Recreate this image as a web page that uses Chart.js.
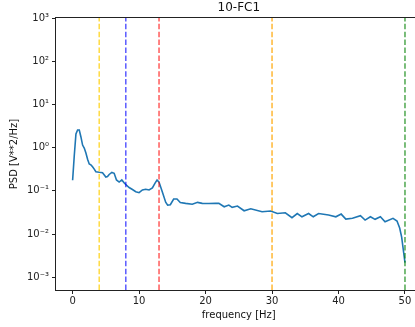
<!DOCTYPE html>
<html>
<head>
<meta charset="utf-8">
<script src="https://cdn.jsdelivr.net/npm/chart.js@4/dist/chart.umd.min.js"></script>
<style>
html,body{margin:0;padding:0;background:#fff;overflow:hidden;width:415px;height:327px;}
canvas{display:block;}
</style>
</head>
<body>
<canvas id="c" width="440" height="327"></canvas>
<script>
const chartTitle = "10-FC1";
const xTitle = "frequency [Hz]";
const yTitle = "PSD [V**2/Hz]";
const freqs = [0,0.25,0.5,0.75,1.0,1.25,1.5,1.75,2.0,2.25,2.5,2.75,3.0,3.25,3.5,4.0,4.5,5.0,5.25,5.5,5.9,6.25,6.6,7.0,7.4,7.8,8.5,9.0,9.5,10.0,10.5,11.0,11.5,12.0,12.4,12.7,13.0,13.5,14.0,14.3,14.7,15.2,15.7,16.2,17.0,18.0,18.8,19.5,20.5,21.5,22.0,22.8,23.5,24.0,24.8,25.8,26.8,28.5,29.8,30.8,32.0,33.0,33.8,34.5,35.5,36.2,37.0,38.5,39.6,40.4,41.1,42.1,43.3,44.0,44.8,45.5,46.3,47.0,48.2,48.8,49.2,49.5,49.75,50];
const psd = [0.176,0.66,2.08,2.57,2.57,1.77,1.15,0.98,0.75,0.54,0.42,0.40,0.363,0.32,0.278,0.269,0.263,0.21,0.215,0.24,0.267,0.255,0.179,0.16,0.179,0.15,0.12,0.108,0.096,0.091,0.105,0.109,0.105,0.117,0.152,0.179,0.16,0.094,0.055,0.047,0.048,0.065,0.065,0.054,0.0515,0.049,0.0543,0.0515,0.051,0.0515,0.0515,0.043,0.047,0.0417,0.0446,0.0347,0.0386,0.0329,0.0342,0.030,0.0312,0.024,0.030,0.0252,0.030,0.0252,0.030,0.0276,0.0252,0.0291,0.0223,0.0232,0.0266,0.0211,0.0252,0.022,0.0252,0.0193,0.0232,0.0201,0.0138,0.0085,0.0043,0.0022];
const bandEdges = [4, 8, 13, 30, 50];
const bandColors = ["rgba(255,205,0,0.75)","rgba(0,0,255,0.65)","rgba(255,0,0,0.65)","rgba(255,165,0,0.8)","rgba(0,128,0,0.7)"];
const xTicks = [0,10,20,30,40,50];
const yTicks = [1e-3,1e-2,1e-1,1e0,1e1,1e2,1e3];
const yTickLabels = ["10⁻³","10⁻²","10⁻¹","10⁰","10¹","10²","10³"];
const xMin = -2.5, xMax = 52.5, yMin = 5.1e-4, yMax = 1e3;

const datasets = [{
  data: freqs.map((f,i)=>({x:f,y:psd[i]})),
  borderColor: '#1f77b4', borderWidth: 1.6, pointRadius: 0, tension: 0, order: 1, fill: false
}];
bandEdges.forEach((b,i)=>{
  datasets.push({
    data: [{x:b,y:yMin},{x:b,y:yMax}],
    borderColor: bandColors[i], borderWidth: 1.5, borderDash: [5.5,2.4],
    pointRadius: 0, order: 0, clip: 0, fill: false
  });
});

const boxPlugin = {
  id: 'box',
  afterDatasetsDraw(chart){
    const {ctx, chartArea:a} = chart;
    ctx.save();
    ctx.strokeStyle = '#222';
    ctx.lineWidth = 1;
    ctx.strokeRect(a.left-0.5, a.top-0.5, a.right-a.left+1, a.bottom-a.top+1);
    ctx.restore();
  }
};

const font = {family: "'DejaVu Sans', sans-serif", size: 10};

new Chart(document.getElementById('c'), {
  type: 'line',
  data: {datasets},
  plugins: [boxPlugin],
  options: {
    responsive: false, animation: false, devicePixelRatio: 1,
    layout: {padding: {left: 0, right: 18.4, top: 0, bottom: 0}},
    plugins: {
      legend: {display: false}, tooltip: {enabled: false},
      title: {display: true, text: chartTitle, fullSize: false, color: '#111',
        font: {family: "'DejaVu Sans', sans-serif", size: 12, weight: 'normal'},
        padding: {top: 1, bottom: 2.6}}
    },
    scales: {
      x: {
        type: 'linear', min: xMin, max: xMax,
        afterBuildTicks(s){ s.ticks = xTicks.map(v=>({value:v})); },
        afterFit(s){ s.height = 37; },
        ticks: {color: '#222', font, padding: 1, maxRotation: 0, autoSkip: false},
        grid: {display: true, drawOnChartArea: false, tickLength: 4, tickColor: '#222', tickWidth: 1},
        border: {display: false},
        title: {display: true, text: xTitle, color: '#111', font, padding: {top: 0, bottom: 6}}
      },
      y: {
        type: 'logarithmic', position: 'left', min: yMin, max: yMax,
        afterBuildTicks(s){ s.ticks = yTicks.map(v=>({value:v, major:true})); },
        afterFit(s){ s.width = 56; },
        ticks: {color: '#222', font, padding: 3, autoSkip: false,
          callback(v){ const i = yTicks.findIndex(t=>Math.abs(Math.log10(t)-Math.log10(v))<1e-6); return i>=0 ? yTickLabels[i] : ''; }},
        grid: {display: true, drawOnChartArea: false, tickLength: 4, tickColor: '#222', tickWidth: 1},
        border: {display: false},
        title: {display: true, text: yTitle, color: '#111', font, padding: {top: 8, bottom: 0}}
      },
      y2: {
        type: 'logarithmic', position: 'left', min: yMin, max: yMax,
        afterFit(s){ s.width = 0; },
        ticks: {display: false, autoSkip: false},
        grid: {display: true, drawOnChartArea: false, tickLength: 2, tickColor: '#222', tickWidth: 0.8},
        border: {display: false}
      }
    }
  }
});
</script>
</body>
</html>
